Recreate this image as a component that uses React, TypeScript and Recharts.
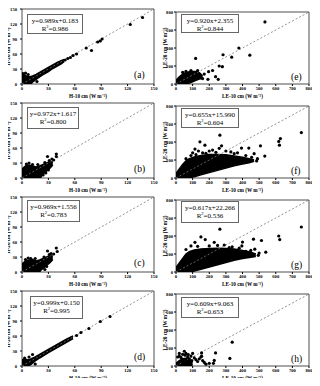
import { ComposedChart, Area, Scatter, XAxis, YAxis, ReferenceLine, ReferenceArea } from 'recharts'

const SERIF = "'Liberation Serif', 'Times New Roman', serif"

const H_TICKS = [0, 30, 60, 90, 120, 150]
const LE_TICKS = [0, 100, 200, 300, 400, 500, 600, 700, 800]

// (a) H, period 1
const A_BAND_X = [0, 2, 5, 8, 12, 16, 20, 25, 30, 35, 40, 45, 48]
const A_BAND_LO = [0, 0, 0, 0, 4, 9, 14, 20, 25, 31, 36, 41, 45]
const A_BAND_HI = [16, 19, 16, 14, 16, 19, 23, 28, 33, 38, 43, 47, 49]
const A_POINTS: [number, number][] = [[1, 21], [4, 22], [7, 19], [10, 2], [17, 5], [49, 48], [52, 51], [55, 53], [58, 57], [62, 60], [73, 72], [79, 67], [86, 84], [89, 86], [91, 90], [123, 119], [137, 133]]

// (b) H
const B_BAND_X = [0, 4, 8, 12, 16, 20, 24, 28, 32, 35]
const B_BAND_LO = [0, 0, 0, 0, 0, 2, 8, 14, 20, 26]
const B_BAND_HI = [18, 24, 26, 24, 22, 24, 27, 30, 33, 32]
const B_POINTS: [number, number][] = [[8, 30], [12, 27], [21, 3], [24, 6], [29, 43], [34, 38], [39, 48], [39, 43], [36, 36], [5, 28], [18, 27], [26, 31], [31, 35], [27, 10], [30, 16]]

// (c) H
const C_BAND_X = [0, 4, 8, 12, 16, 20, 24, 28, 32, 35]
const C_BAND_LO = [0, 0, 0, 0, 0, 2, 7, 13, 19, 25]
const C_BAND_HI = [16, 22, 24, 25, 22, 24, 27, 30, 33, 32]
const C_POINTS: [number, number][] = [[7, 28], [10, 27], [20, 3], [26, 5], [29, 42], [33, 37], [39, 48], [40, 41], [36, 36], [4, 25], [15, 27], [25, 30], [31, 35], [28, 11]]

// (d) H
const D_BAND_X = [0, 3, 6, 10, 15, 20, 30, 40, 50, 58]
const D_BAND_LO = [0, 0, 0, 3, 10, 16, 27, 37, 47, 55]
const D_BAND_HI = [12, 15, 12, 14, 18, 23, 33, 43, 53, 60]
const D_POINTS: [number, number][] = [[12, 23], [8, 18], [3, 16], [15, 4], [62, 61], [67, 67], [76, 75], [89, 89], [100, 99]]

// (e) LE
const E_BAND_X = [0, 20, 40, 60, 80, 100, 120, 140, 160]
const E_BAND_LO = [0, 0, 0, 0, 10, 25, 40, 55, 60]
const E_BAND_HI = [40, 80, 110, 125, 135, 140, 140, 125, 90]
const E_POINTS: [number, number][] = [[60, 140], [118, 284], [196, 137], [238, 81], [254, 52], [192, 52], [160, 60], [260, 200], [279, 192], [283, 325], [335, 298], [378, 400], [444, 320], [535, 690], [170, 110], [140, 100], [220, 150], [40, 130], [90, 150], [130, 150]]

// (f) LE
const F_BAND_X = [0, 20, 40, 60, 80, 110, 150, 200, 250, 300, 350, 400, 440, 470]
const F_BAND_LO = [0, 0, 0, 0, 3, 15, 35, 60, 85, 110, 135, 155, 170, 185]
const F_BAND_HI = [50, 100, 150, 190, 215, 235, 250, 260, 262, 258, 245, 230, 215, 200]
const F_POINTS: [number, number][] = [[264, 476], [144, 402], [174, 365], [114, 321], [135, 300], [200, 300], [274, 358], [260, 330], [394, 332], [438, 332], [370, 280], [408, 210], [508, 358], [534, 244], [470, 270], [618, 406], [628, 438], [622, 365], [754, 505], [300, 300], [220, 310], [330, 290], [160, 280], [100, 280], [90, 250], [240, 285], [180, 275], [120, 260], [350, 270], [420, 250], [455, 230], [490, 215], [485, 190], [60, 215], [410, 180]]

// (g) LE
const G_BAND_X = [0, 20, 40, 60, 80, 110, 150, 200, 250, 300, 350, 400, 440, 480]
const G_BAND_LO = [0, 0, 0, 0, 0, 10, 30, 55, 80, 105, 130, 150, 162, 172]
const G_BAND_HI = [50, 100, 150, 200, 225, 245, 255, 262, 265, 262, 255, 240, 225, 200]
const G_POINTS: [number, number][] = [[264, 476], [114, 330], [176, 360], [150, 390], [290, 300], [338, 280], [400, 332], [396, 290], [466, 365], [474, 254], [514, 350], [618, 400], [624, 360], [754, 500], [230, 330], [90, 290], [60, 250], [420, 230], [540, 220], [360, 230], [200, 290], [130, 285], [250, 295], [320, 270], [380, 265], [450, 240], [500, 210], [495, 185]]

// (h) LE
const H_BAND_X = [0, 20, 40, 60, 80, 100]
const H_BAND_LO = [0, 0, 0, 0, 5, 10]
const H_BAND_HI = [30, 60, 80, 85, 70, 40]
const H_POINTS: [number, number][] = [[10, 100], [20, 110], [30, 95], [40, 130], [50, 164], [55, 120], [60, 140], [70, 100], [74, 127], [80, 80], [90, 110], [95, 60], [100, 140], [110, 90], [120, 70], [130, 50], [140, 80], [150, 100], [154, 145], [154, 109], [160, 60], [170, 40], [180, 20], [200, 30], [230, 62], [238, 145], [225, 30], [324, 84], [338, 265], [20, 140], [35, 60], [45, 40], [65, 50], [85, 30]]

const EQS = ['y=0.989x+0.183', 'y=0.972x+1.617', 'y=0.969x+1.556', 'y=0.999x+0.150', 'y=0.920x+2.355', 'y=0.655x+15.990', 'y=0.617x+22.266', 'y=0.609x+9.063']
const R2S = ['0.986', '0.800', '0.783', '0.995', '0.844', '0.604', '0.536', '0.653']
const LABELS = ['(a)', '(b)', '(c)', '(d)', '(e)', '(f)', '(g)', '(h)']

const BANDS = [
  [A_BAND_X, A_BAND_LO, A_BAND_HI], [B_BAND_X, B_BAND_LO, B_BAND_HI],
  [C_BAND_X, C_BAND_LO, C_BAND_HI], [D_BAND_X, D_BAND_LO, D_BAND_HI],
  [E_BAND_X, E_BAND_LO, E_BAND_HI], [F_BAND_X, F_BAND_LO, F_BAND_HI],
  [G_BAND_X, G_BAND_LO, G_BAND_HI], [H_BAND_X, H_BAND_LO, H_BAND_HI],
]
const POINTS = [A_POINTS, B_POINTS, C_POINTS, D_POINTS, E_POINTS, F_POINTS, G_POINTS, H_POINTS]

// equation box: left, top, width, height (relative to panel)
const BOXES = [
  [27, 14, 56, 20], [27, 13, 52, 22], [27, 12, 53, 22], [30, 14, 53, 23],
  [21, 14, 58, 19], [21, 14, 58, 20], [21, 13, 58, 22], [21, 15, 58, 21],
]

const dot = (p: any) => <circle cx={p.cx} cy={p.cy} r={1.6} fill="#000" />

function Panel({ idx }: { idx: number }) {
  const isLE = idx >= 4
  const row = idx % 4
  const max = isLE ? 800 : 150
  const ticks = isLE ? LE_TICKS : H_TICKS
  const [bx, lo, hi] = BANDS[idx]
  const band = bx.map((x, i) => ({ x, band: [lo[i], hi[i]] }))
  const pts = POINTS[idx].map(([x, y]) => ({ x, y }))
  const [boxL, boxT, boxW, boxH] = BOXES[idx]
  const tickStyle = { fontSize: 4.6, fontWeight: 'bold' as const, fill: '#000', fontFamily: SERIF }
  const titleStyle = { fontSize: 5.2, fontWeight: 'bold' as const, fill: '#000', fontFamily: SERIF }
  const v = isLE ? 'LE' : 'H'
  return (
    <div style={{ position: 'absolute', left: isLE ? 160 : 0, top: row * 94, width: 160, height: 100 }}>
      <ComposedChart
        width={160}
        height={100}
        data={band}
        margin={{ top: isLE ? 12 : 9, right: isLE ? 11 : 6, bottom: 0, left: 2 }}
      >
        <XAxis
          type="number"
          dataKey="x"
          domain={[0, max]}
          ticks={ticks}
          allowDataOverflow
          height={16}
          tickSize={2}
          tickMargin={1}
          tick={tickStyle}
          axisLine={false}
          stroke="#000"
          label={{ value: `${v}-10 cm (W m⁻²)`, position: 'insideBottom', offset: 2, style: titleStyle }}
        />
        <YAxis
          type="number"
          domain={[0, max]}
          ticks={ticks}
          allowDataOverflow
          width={isLE ? 14 : 20}
          tickSize={2}
          tickMargin={isLE ? 1 : 3}
          tick={tickStyle}
          axisLine={false}
          stroke="#000"
          label={{ value: `${v}-20 cm (W m⁻²)`, angle: -90, position: 'insideLeft', offset: isLE ? 3 : 6, style: { ...titleStyle, textAnchor: 'middle' } }}
        />
        <ReferenceArea x1={0} x2={max} y1={0} y2={max} fill="none" stroke="#222" strokeWidth={0.8} />
        <ReferenceLine segment={[{ x: 0, y: 0 }, { x: max, y: max }]} stroke="#777" strokeDasharray="2 2" strokeWidth={0.8} />
        <Area type="linear" dataKey="band" fill="#000" fillOpacity={1} stroke="#000" strokeWidth={1.5} isAnimationActive={false} />
        <Scatter data={pts} dataKey="y" shape={dot} isAnimationActive={false} />
      </ComposedChart>
      <div
        style={{
          position: 'absolute', left: boxL, top: boxT, width: boxW, height: boxH, boxSizing: 'border-box',
          border: '1px solid #666', background: '#fff', fontFamily: SERIF, fontSize: 7, lineHeight: '8px',
          textAlign: 'center', paddingTop: 2, color: '#000',
        }}
      >
        <div>{EQS[idx]}</div>
        <div>R<sup style={{ fontSize: 4.5, lineHeight: 0 }}>2</sup>={R2S[idx]}</div>
      </div>
      <div
        style={{
          position: 'absolute', left: isLE ? 131 : 134, top: isLE ? 72 : 70, fontFamily: SERIF, fontSize: 9.5, color: '#000',
        }}
      >
        {LABELS[idx]}
      </div>
    </div>
  )
}

export default function App() {
  return (
    <div style={{ position: 'relative', width: 320, height: 386, margin: -8, background: '#fff', overflow: 'hidden' }}>
      {[0, 1, 2, 3, 4, 5, 6, 7].map((i) => (
        <Panel key={i} idx={i} />
      ))}
    </div>
  )
}
